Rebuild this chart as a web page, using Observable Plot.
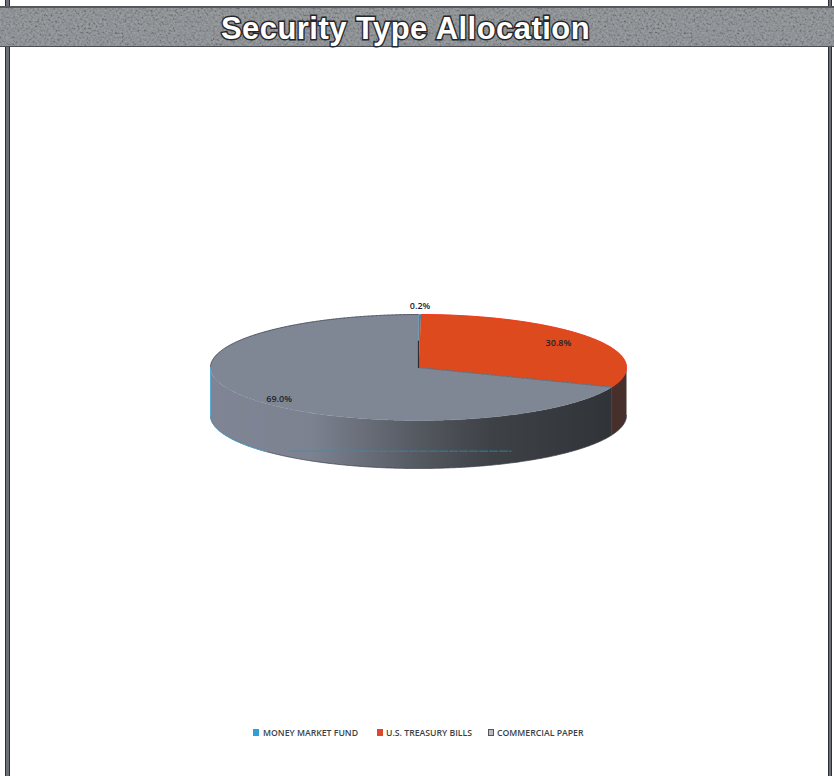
<!DOCTYPE html>
<html>
<head>
<meta charset="utf-8">
<title>Security Type Allocation</title>
<script src="https://cdn.jsdelivr.net/npm/d3@7"></script>
<script src="https://cdn.jsdelivr.net/npm/@observablehq/plot@0.6"></script>
<style>
  html, body { margin: 0; background: #fff; }
  #page { position: relative; width: 834px; height: 776px; overflow: hidden; background: #fff; }
  #page .edge { position: absolute; top: 0; bottom: 0; background: #6c7076; border-left: 1.5px solid #2c2f34; border-right: 1.5px solid #2c2f34; box-sizing: border-box; }
  #head {
    position: absolute; left: 0; right: 0; top: 6px; height: 41px;
    background-color: #84888c;
    background-image: url("data:image/svg+xml,%3Csvg xmlns='http://www.w3.org/2000/svg' width='834' height='41'%3E%3Cfilter id='n' x='0' y='0' width='100%25' height='100%25'%3E%3CfeTurbulence type='fractalNoise' baseFrequency='0.45' numOctaves='3' seed='7'/%3E%3CfeColorMatrix values='1.8 0 0 0 -0.4 1.8 0 0 0 -0.4 1.8 0 0 0 -0.4 0 0 0 0 0.2'/%3E%3C/filter%3E%3Crect width='834' height='41' filter='url(%23n)'/%3E%3C/svg%3E");
    border-top: 2px solid #55585c; border-bottom: 1px solid #4b4e52; box-sizing: border-box;
    text-align: center;
  }
  #head h1 {
    margin: 0; padding-right: 23px; font: 700 31px/42px "Liberation Sans", Arial, sans-serif; letter-spacing: 0.45px;
    color: #fff; -webkit-text-stroke: 2.8px #23262a; paint-order: stroke fill;
  }
  #chart { position: absolute; left: 0; top: 46px; }
  #legend { position: absolute; left: 0; top: 726px; width: 834px; height: 14px;
    font: 600 8.7px/14px "Open Sans", sans-serif; color: #3a3f48; white-space: nowrap; }
  #legend span { position: absolute; top: 0; }
  #legend i { position: absolute; top: 3px; width: 6px; height: 7px; }
</style>
</head>
<body>
<div id="page">
  <div class="edge" style="left:5px;width:5px"></div>
  <div class="edge" style="left:828px;width:4px"></div>
  <div id="chart"></div>
  <div id="head"><h1>Security Type Allocation</h1></div>
  <div id="legend"></div>
</div>
<script>
// Portfolio shares, clockwise from twelve o'clock
const categories = ["MONEY MARKET FUND", "U.S. TREASURY BILLS", "COMMERCIAL PAPER"];
const shares = [0.2, 30.8, 69.0];
const shareLabels = ["0.2%", "30.8%", "69.0%"];
const faceColors = ["#1f8fc9", "#dd4a1e", "#7f8694"];
const swatchColors = ["#2f9fd6", "#e0482c", "#b9bcc2"];
const legendLefts = [253, 377, 488];
const legendTextLefts = [263, 386, 497];

// Disc proportions in radius units
const tilt = 53 / 208;
const depth = 48 / 208;
const labelReach = [1.2, 0.81, 0.81];
const labelDrop = [0.01, 0, 0.035];

const TAU = 2 * Math.PI;
const arcs = d3.pie().sort(null).value(d => d).startAngle(0).endAngle(TAU)(shares);

const rim = (a, drop = 0) => ({x: Math.sin(a), y: tilt * Math.cos(a) - drop});
const sweep = (a0, a1) => {
  const steps = Math.max(2, Math.ceil(Math.abs(a1 - a0) / 0.01));
  return d3.range(steps + 1).map(i => a0 + (a1 - a0) * i / steps);
};

// Top face: one closed wedge per category
const faces = arcs.flatMap((s, i) => [
  {x: 0, y: 0, key: categories[i]},
  ...sweep(s.startAngle, s.endAngle).map(a => ({...rim(a), key: categories[i]}))
]);

// Front wall: the part of each wedge's rim that faces the viewer
const walls = arcs.flatMap((s, i) => {
  const a0 = Math.max(s.startAngle, TAU / 4), a1 = Math.min(s.endAngle, 3 * TAU / 4);
  if (a1 <= a0) return [];
  const arc = sweep(a0, a1);
  return [
    ...arc.map(a => ({...rim(a), key: categories[i]})),
    ...arc.slice().reverse().map(a => ({...rim(a, depth), key: categories[i]}))
  ];
});

const labels = arcs.map((s, i) => {
  const mid = (s.startAngle + s.endAngle) / 2;
  return {
    x: Math.sin(mid) * labelReach[i],
    y: tilt * Math.cos(mid) * labelReach[i] - labelDrop[i],
    text: shareLabels[i]
  };
});

// Seams between wedges, drawn from the centre out to the rim
const seamTo = a => [{x: 0, y: 0}, rim(a)];
const redSeam = seamTo(arcs[1].endAngle);
const blueSeam = [{x: 0, y: 0}, {x: 0, y: tilt * 0.5}];

// Thin blue trace of the money market wedge along the lower left of the wall
const traceLeft = sweep(3 * TAU / 4, 0.63 * TAU).map(a => rim(a, depth));
const traceEdge = [rim(3 * TAU / 4), rim(3 * TAU / 4, depth)];
const traceFloor = -0.402;

const wallFill = () => {
  const ns = "http://www.w3.org/2000/svg";
  const defs = document.createElementNS(ns, "defs");
  const grad = document.createElementNS(ns, "linearGradient");
  grad.id = "wall-shade";
  [[0, "#7f8594"], [0.25, "#7c8290"], [0.38, "#696e79"], [0.55, "#50545b"], [0.7, "#3e4247"], [1, "#303337"]]
    .forEach(([o, c]) => {
      const stop = document.createElementNS(ns, "stop");
      stop.setAttribute("offset", o);
      stop.setAttribute("stop-color", c);
      grad.appendChild(stop);
    });
  defs.appendChild(grad);
  return defs;
};

const plot = Plot.plot({
  width: 834,
  height: 680,
  margin: 0,
  axis: null,
  style: {background: "transparent"},
  x: {domain: [-418 / 208, 416 / 208], range: [0, 834]},
  y: {domain: [321 / 208, -359 / 208], range: [0, 680]},
  marks: [
    wallFill,
    Plot.line(walls.filter(d => d.key === categories[2]), {x: "x", y: "y", fill: "url(#wall-shade)"}),
    Plot.line(walls.filter(d => d.key === categories[1]), {x: "x", y: "y", fill: "#47302c"}),
    Plot.line(sweep(TAU / 4, 3 * TAU / 4).map(a => rim(a, depth)), {x: "x", y: "y", stroke: "#3a3e46", strokeWidth: 0.7}),
    ...categories.map((c, i) =>
      Plot.line(faces.filter(d => d.key === c), {x: "x", y: "y", fill: faceColors[i], stroke: faceColors[i], strokeWidth: 0.4})
    ),
    Plot.line(sweep(3 * TAU / 4, TAU).map(a => rim(a)), {x: "x", y: "y", stroke: "#3d4250", strokeWidth: 0.8, strokeDasharray: "3 1"}),
    Plot.line(sweep(arcs[1].startAngle, arcs[1].endAngle).map(a => rim(a)), {x: "x", y: "y", stroke: "#f5341a", strokeWidth: 1}),
    Plot.line(redSeam, {x: "x", y: "y", stroke: "#59606c", strokeWidth: 0.8, strokeDasharray: "3 1"}),
    Plot.line(blueSeam, {x: "x", y: "y", stroke: "#2b2d30", strokeWidth: 1.2}),
    Plot.line(traceEdge, {x: "x", y: "y", stroke: "#5aa9d2", strokeWidth: 1}),
    Plot.line(traceLeft, {x: "x", y: "y", stroke: "#5aa9d2", strokeWidth: 1}),
    Plot.ruleY([traceFloor], {x1: -0.62, x2: 0.45, stroke: "#2f93b8", strokeWidth: 1, strokeOpacity: 0.75, strokeDasharray: "9 1"}),
    Plot.text(labels, {x: "x", y: "y", text: "text", fill: "#20242c", fontSize: 9, fontWeight: 600, fontFamily: "Open Sans"})
  ]
});
document.getElementById("chart").appendChild(plot);

// Legend row under the chart
const legend = document.getElementById("legend");
categories.forEach((c, i) => {
  const sw = document.createElement("i");
  sw.style.left = legendLefts[i] + "px";
  sw.style.background = swatchColors[i];
  if (i === 2) sw.style.border = "1px solid #555", sw.style.boxSizing = "border-box";
  const t = document.createElement("span");
  t.style.left = legendTextLefts[i] + "px";
  t.textContent = c;
  legend.append(sw, t);
});
</script>
</body>
</html>
